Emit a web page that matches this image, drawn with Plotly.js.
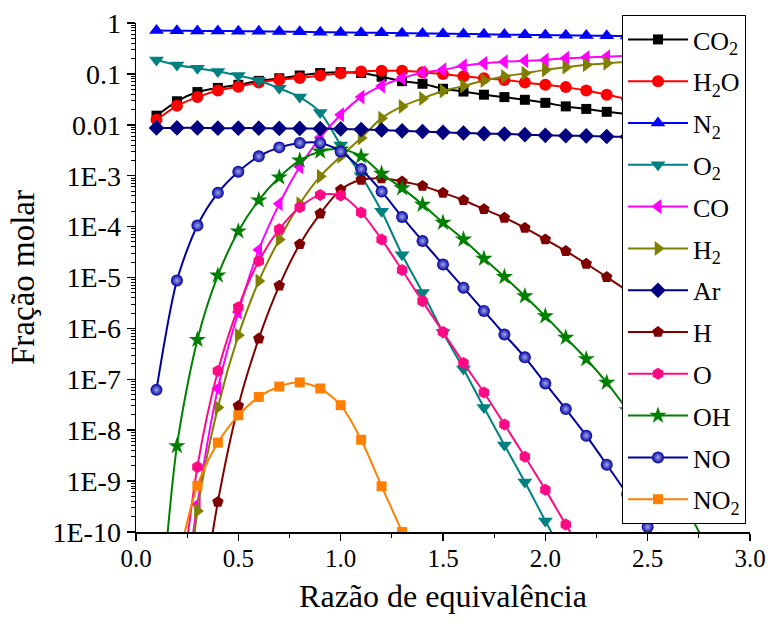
<!DOCTYPE html>
<html>
<head>
<meta charset="utf-8">
<script src="https://cdn.plot.ly/plotly-3.0.1.min.js"></script>
<style>html,body{margin:0;padding:0;background:#fff}#chart{width:771px;height:624px}</style>
</head>
<body>
<div id="chart"></div>
<script>
const phi = [0.1,0.2,0.3,0.4,0.5,0.6,0.7,0.8,0.9,1.0,1.1,1.2,1.3,1.4,1.5,1.6,1.7,1.8,1.9,2.0,2.1,2.2,2.3,2.4,2.5,2.6,2.7,2.8,2.9];

const CO2 = [0.0151,0.029,0.044,0.053,0.061,0.073,0.082,0.093,0.104,0.108,0.104,0.088,0.072,0.064,0.051,0.045,0.039,0.035,0.031,0.027,0.023,0.0205,0.018,0.0163,0.0147,0.0132,0.0119,0.0108,0.0098];
const H2O = [0.0125,0.0236,0.035,0.047,0.056,0.068,0.077,0.083,0.093,0.103,0.111,0.115,0.115,0.108,0.099,0.090,0.082,0.076,0.068,0.061,0.055,0.047,0.039,0.032,0.028,0.025,0.022,0.019,0.017];
const N2  = [0.71,0.705,0.70,0.695,0.69,0.685,0.68,0.67,0.66,0.65,0.645,0.64,0.632,0.625,0.618,0.61,0.60,0.592,0.585,0.578,0.572,0.566,0.56,0.555,0.55,0.545,0.54,0.535,0.53];
const O2  = [0.188,0.150,0.129,0.111,0.093,0.074,0.052,0.035,0.0175,4.0e-3,1.0e-3,2.0e-4,2.8e-5,5.1e-6,8.3e-7,1.6e-7,2.8e-8,5.1e-9,9.6e-10,1.65e-10,3e-11,5e-12];
const CO  = [1e-17,3e-13,3.5e-10,6.6e-8,2.1e-6,3.5e-5,2.8e-4,1.5e-3,5.6e-3,0.0158,0.035,0.058,0.082,0.106,0.12,0.144,0.162,0.174,0.182,0.188,0.203,0.21,0.218,0.224,0.228,0.232,0.235,0.237,0.239];
const H2  = [1e-19,1e-14,2.6e-10,2.8e-8,7.3e-7,8.5e-6,5.6e-5,2.8e-4,9.7e-4,2.4e-3,5.5e-3,0.0135,0.023,0.033,0.046,0.058,0.074,0.089,0.103,0.12,0.135,0.151,0.162,0.172,0.18,0.187,0.193,0.198,0.202];
const Ar  = [8.7e-3,8.7e-3,8.7e-3,8.6e-3,8.6e-3,8.6e-3,8.5e-3,8.5e-3,8.4e-3,8.3e-3,8.1e-3,7.9e-3,7.6e-3,7.4e-3,7.1e-3,6.9e-3,6.7e-3,6.6e-3,6.4e-3,6.2e-3,6.1e-3,6.05e-3,5.9e-3,5.8e-3,5.7e-3,5.6e-3,5.5e-3,5.4e-3,5.3e-3];
const H   = [1e-20,1e-15,1e-12,3.9e-10,3.0e-8,6.3e-7,6.9e-6,4.5e-5,1.8e-4,5.3e-4,8.3e-4,8.9e-4,7.7e-4,6.3e-4,4.6e-4,3.3e-4,2.2e-4,1.49e-4,9.4e-5,5.6e-5,3.3e-5,1.86e-5,1.02e-5,5.5e-6,2.9e-6,1.5e-6,7.5e-7,3.6e-7,1.7e-7];
const O   = [1e-18,1e-12,1.9e-9,1.45e-7,2.6e-6,2.1e-5,8.9e-5,2.4e-4,4.2e-4,4.1e-4,1.9e-4,5.6e-5,1.4e-5,3.4e-6,8.5e-7,2.1e-7,5.5e-8,1.3e-8,3.0e-9,6.8e-10,1.4e-10,3e-11,6e-12];
const OH  = [2.5e-13,4.9e-9,6.0e-7,1.1e-5,8.1e-5,3.3e-4,9.3e-4,2.0e-3,3.0e-3,3.3e-3,2.4e-3,1.1e-3,5.7e-4,2.7e-4,1.2e-4,5.6e-5,2.35e-5,1.03e-5,4.3e-6,1.74e-6,6.6e-7,2.5e-7,8.6e-8,2.5e-8,6.3e-9,1.4e-9,2.5e-10,4e-11,5e-12];
const NO  = [6.2e-8,8.7e-6,1.05e-4,4.6e-4,1.2e-3,2.4e-3,3.6e-3,4.4e-3,4.4e-3,3.0e-3,1.35e-3,4.9e-4,1.55e-4,5.2e-5,1.8e-5,6.3e-6,2.2e-6,7.6e-7,2.7e-7,8.3e-8,2.6e-8,7.8e-9,2.1e-9,5.5e-10,1.25e-10,2.5e-11];
const NO2 = [1e-13,2e-11,8.1e-10,5.7e-9,1.96e-8,4.5e-8,7.2e-8,8.7e-8,6.6e-8,3.1e-8,6.5e-9,7.9e-10,1.0e-10,1e-11,1e-12];

const names = ['CO<sub>2</sub>','H<sub>2</sub>O','N<sub>2</sub>','O<sub>2</sub>','CO','H<sub>2</sub>','Ar','H','O','OH','NO','NO<sub>2</sub>'];
const series = [CO2,H2O,N2,O2,CO,H2,Ar,H,O,OH,NO,NO2];
const colors = ['#000000','#FF0000','#0000FF','#008080','#FF00FF','#808000','#000080','#800000','#FF0A85','#008000','#0000A0','#FF8000'];
const symbols = ['square','circle','triangle-up','triangle-down','triangle-left','triangle-right','diamond','pentagon','hexagon','star','circle','square'];
const sizes = [10,12,13,13,13,13,12,12,12,13,12,10];

const yTickVals = [1,0.1,0.01,1e-3,1e-4,1e-5,1e-6,1e-7,1e-8,1e-9,1e-10];
const yTickText = ['1','0.1','0.01','1E-3','1E-4','1E-5','1E-6','1E-7','1E-8','1E-9','1E-10'];

const minorVals = [];
for (let e = -10; e < 0; e++) for (let m = 2; m <= 9; m++) minorVals.push(m * Math.pow(10, e));

const traces = series.map((ys, i) => {
  const marker = {symbol: symbols[i], size: sizes[i], color: colors[i], line: {width: 0}};
  if (i === 10) marker.gradient = {type: 'radial', color: '#9fa8e8'};
  return {
    x: phi.slice(0, ys.length), y: ys, name: names[i], type: 'scatter', mode: 'lines+markers',
    legendgroup: 'g' + i,
    line: {color: colors[i], width: 2, shape: 'spline', smoothing: 0.8},
    marker: marker
  };
});

const font = 'Liberation Serif, Times New Roman, serif';
const layout = {
  width: 771, height: 624,
  margin: {l: 136, r: 21, t: 23, b: 92},
  paper_bgcolor: '#fff', plot_bgcolor: '#fff',
  font: {family: font, color: '#000', size: 24},
  showlegend: true,
  legend: {
    x: 0.7915, xanchor: 'left', y: 1.0157, yanchor: 'top',
    bgcolor: '#fff', bordercolor: '#000', borderwidth: 1,
    font: {family: font, size: 26, color: '#000'},
    itemwidth: 60, tracegroupgap: 5, maxheight: 600
  },
  xaxis: {
    range: [0, 3], dtick: 0.5, tick0: 0, tickformat: '.1f',
    showline: true, linecolor: '#000', linewidth: 1.5, mirror: false,
    ticks: 'outside', ticklen: 7, tickwidth: 1.5, tickcolor: '#000',
    minor: {dtick: 0.25, ticks: 'outside', ticklen: 4, tickwidth: 1, tickcolor: '#000'},
    showgrid: false, zeroline: false, ticklabelstandoff: -4,
    tickfont: {family: font, size: 25},
    title: {text: 'Razão de equivalência', font: {family: font, size: 32}, standoff: 14}
  },
  yaxis: {
    type: 'log', range: [-10, 0],
    tickmode: 'array', tickvals: yTickVals, ticktext: yTickText,
    showline: true, linecolor: '#000', linewidth: 1.5, mirror: false,
    ticks: 'outside', ticklen: 8, tickwidth: 1.5, tickcolor: '#000',
    minor: {tickmode: 'array', tickvals: minorVals, ticks: 'outside', ticklen: 4, tickwidth: 1, tickcolor: '#000'},
    showgrid: false, zeroline: false,
    tickfont: {family: font, size: 28},
    title: {text: 'Fração molar', font: {family: font, size: 33}, standoff: 8}
  }
};

Plotly.newPlot('chart', traces, layout, {displayModeBar: false, staticPlot: true});
</script>
</body>
</html>
